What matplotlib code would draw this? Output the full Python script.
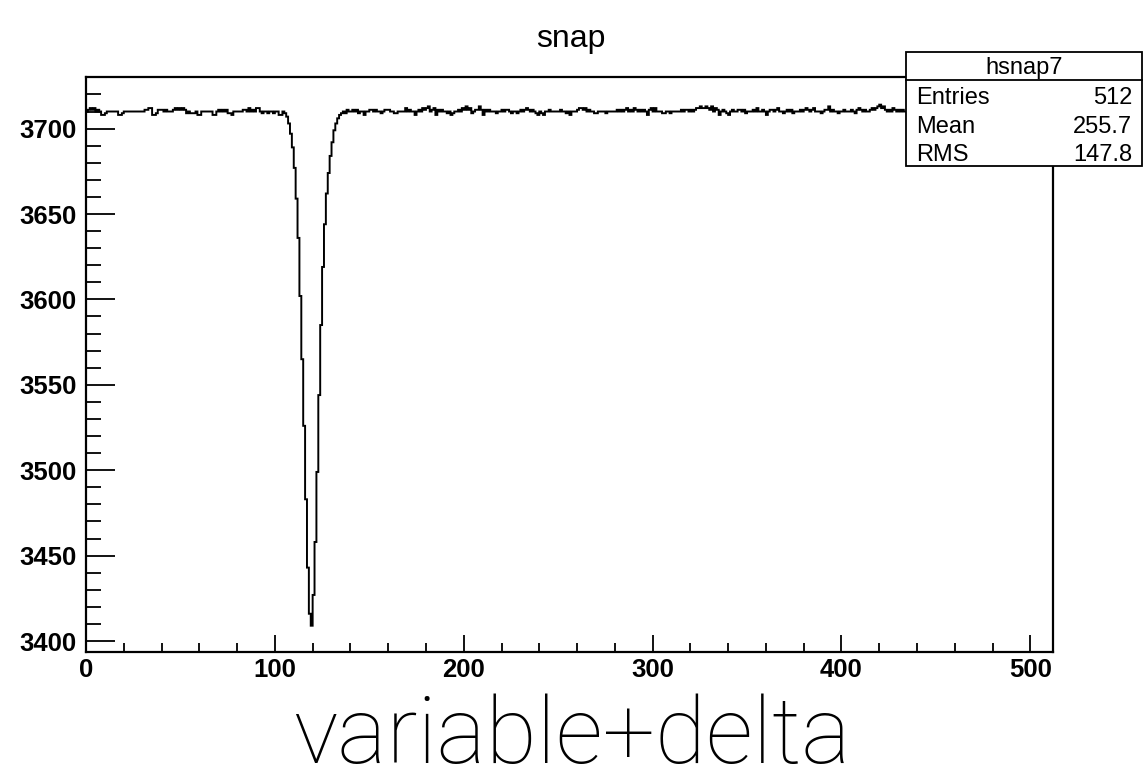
import numpy as np
import matplotlib
matplotlib.use('Agg')
import matplotlib.pyplot as plt
from matplotlib.patches import Rectangle
from matplotlib.lines import Line2D
from matplotlib.ticker import MultipleLocator

# Histogram "hsnap7": 512 bins over [0, 512), contents.
counts = [
    3710, 3711, 3712, 3711, 3712, 3710, 3711, 3710, 3708, 3708, 3709, 3710, 3710, 3710, 3710, 3710,
    3710, 3708, 3708, 3709, 3710, 3710, 3710, 3710, 3710, 3710, 3710, 3710, 3710, 3710, 3710, 3711,
    3711, 3712, 3712, 3708, 3708, 3709, 3711, 3711, 3711, 3710, 3711, 3710, 3710, 3710, 3711, 3712,
    3711, 3712, 3711, 3712, 3711, 3709, 3710, 3709, 3709, 3709, 3710, 3708, 3708, 3710, 3710, 3710,
    3710, 3710, 3710, 3708, 3708, 3710, 3711, 3710, 3711, 3710, 3711, 3709, 3709, 3708, 3710, 3710,
    3710, 3710, 3710, 3711, 3711, 3710, 3712, 3710, 3711, 3710, 3712, 3712, 3710, 3709, 3710, 3710,
    3709, 3710, 3710, 3709, 3710, 3710, 3708, 3708, 3710, 3709, 3707, 3703, 3697, 3689, 3677, 3659,
    3636, 3602, 3565, 3526, 3483, 3443, 3416, 3409, 3427, 3458, 3499, 3544, 3585, 3619, 3644, 3662,
    3674, 3684, 3692, 3699, 3703, 3706, 3708, 3709, 3710, 3709, 3711, 3710, 3710, 3711, 3710, 3711,
    3709, 3710, 3710, 3708, 3710, 3710, 3711, 3711, 3710, 3711, 3710, 3710, 3709, 3710, 3711, 3711,
    3711, 3710, 3710, 3709, 3709, 3710, 3710, 3710, 3710, 3712, 3710, 3711, 3710, 3710, 3708, 3710,
    3711, 3710, 3712, 3711, 3712, 3713, 3710, 3711, 3712, 3708, 3711, 3710, 3711, 3710, 3710, 3709,
    3710, 3708, 3709, 3710, 3710, 3711, 3710, 3712, 3711, 3713, 3711, 3712, 3709, 3710, 3711, 3711,
    3713, 3711, 3708, 3711, 3710, 3711, 3710, 3710, 3710, 3709, 3710, 3710, 3711, 3710, 3711, 3711,
    3710, 3709, 3710, 3710, 3709, 3710, 3711, 3710, 3711, 3712, 3711, 3710, 3711, 3710, 3709, 3708,
    3710, 3709, 3708, 3710, 3710, 3711, 3710, 3710, 3710, 3710, 3710, 3711, 3710, 3710, 3709, 3710,
    3708, 3710, 3710, 3710, 3711, 3712, 3712, 3711, 3712, 3710, 3711, 3710, 3710, 3709, 3709, 3710,
    3710, 3710, 3710, 3709, 3710, 3710, 3710, 3710, 3710, 3711, 3710, 3711, 3710, 3711, 3712, 3710,
    3711, 3710, 3712, 3711, 3710, 3711, 3710, 3711, 3710, 3708, 3711, 3712, 3710, 3712, 3710, 3710,
    3710, 3709, 3709, 3710, 3710, 3709, 3710, 3710, 3710, 3710, 3710, 3711, 3710, 3711, 3711, 3710,
    3711, 3710, 3711, 3712, 3712, 3713, 3712, 3712, 3713, 3712, 3711, 3713, 3710, 3712, 3711, 3708,
    3710, 3711, 3710, 3709, 3708, 3710, 3711, 3710, 3710, 3711, 3711, 3710, 3711, 3709, 3710, 3710,
    3710, 3711, 3710, 3712, 3710, 3710, 3711, 3710, 3708, 3710, 3711, 3711, 3710, 3711, 3712, 3710,
    3710, 3709, 3710, 3711, 3710, 3711, 3709, 3710, 3710, 3710, 3711, 3710, 3711, 3712, 3711, 3710,
    3711, 3712, 3710, 3710, 3710, 3709, 3710, 3711, 3711, 3713, 3710, 3711, 3710, 3710, 3709, 3710,
    3710, 3711, 3710, 3710, 3710, 3711, 3710, 3709, 3711, 3712, 3711, 3710, 3711, 3710, 3710, 3711,
    3712, 3711, 3712, 3713, 3714, 3712, 3713, 3711, 3710, 3711, 3710, 3712, 3711, 3710, 3711, 3710,
    3711, 3710, 3710, 3711, 3710, 3711, 3710, 3710, 3710, 3711, 3710, 3710, 3711, 3710, 3710, 3710,
    3710, 3711, 3709, 3710, 3711, 3710, 3712, 3710, 3711, 3710, 3710, 3709, 3710, 3711, 3710, 3711,
    3710, 3710, 3711, 3712, 3710, 3711, 3710, 3709, 3710, 3710, 3711, 3710, 3712, 3711, 3710, 3710,
    3711, 3710, 3709, 3710, 3710, 3711, 3711, 3710, 3710, 3712, 3710, 3711, 3710, 3710, 3711, 3710,
    3710, 3711, 3710, 3710, 3709, 3710, 3711, 3710, 3711, 3710, 3710, 3711, 3710, 3710, 3711, 3710,
]
bin_edges = np.arange(len(counts) + 1)

hist_name = 'hsnap7'
stat_labels = ['Entries', 'Mean', 'RMS']
stat_values = ['512', '255.7', '147.8']
title = 'snap'
caption = 'variable+delta'

W, H = 1143, 782
fig = plt.figure(figsize=(W / 100, H / 100), dpi=100)
fig.patch.set_facecolor('white')

# frame in pixels: left 86, right 1053, top 77, bottom 652
ax = fig.add_axes([86 / W, 1 - 652 / H, (1053 - 86) / W, (652 - 77) / H])
ax.stairs(counts, bin_edges, color='black', linewidth=1.4)
ax.set_xlim(0, 512)
ax.set_ylim(3393.6, 3730.2)

for s in ['top', 'right', 'left', 'bottom']:
    ax.spines[s].set_linewidth(1.6)

ax.xaxis.set_major_locator(MultipleLocator(100))
ax.xaxis.set_minor_locator(MultipleLocator(20))
ax.yaxis.set_major_locator(MultipleLocator(50))
ax.yaxis.set_minor_locator(MultipleLocator(10))
ax.tick_params(axis='x', which='major', direction='in', length=12.5, width=1.3, pad=4)
ax.tick_params(axis='x', which='minor', direction='in', length=6.3, width=1.3)
ax.tick_params(axis='y', which='major', direction='in', length=21, width=1.3, pad=7)
ax.tick_params(axis='y', which='minor', direction='in', length=10.5, width=1.3)
for lab in ax.get_xticklabels() + ax.get_yticklabels():
    lab.set_family('Liberation Sans')
    lab.set_fontweight('bold')
    lab.set_fontsize(18.5)

fig.text(571 / W, 1 - 47 / H, title, ha='center', va='baseline',
         family='Liberation Sans', fontsize=23)

# stats box
bx0, by0, bx1, by1 = 906, 52, 1142, 166
fig.add_artist(Rectangle((bx0 / W, 1 - by1 / H), (bx1 - bx0) / W, (by1 - by0) / H,
                         transform=fig.transFigure, facecolor='white',
                         edgecolor='black', linewidth=1.3, zorder=5))
fig.add_artist(Line2D([bx0 / W, bx1 / W], [1 - 80 / H, 1 - 80 / H],
                      transform=fig.transFigure, color='black', linewidth=1.3, zorder=6))
fig.text((bx0 + bx1) / 2 / W, 1 - 74 / H, hist_name, ha='center', va='baseline',
         family='Liberation Sans', fontsize=17, zorder=7)
rows_y = [104, 133, 161]
for lab, val, yy in zip(stat_labels, stat_values, rows_y):
    fig.text(916 / W, 1 - yy / H, lab, ha='left', va='baseline',
             family='Liberation Sans', fontsize=17, zorder=7)
    fig.text(1132 / W, 1 - yy / H, val, ha='right', va='baseline',
             family='Liberation Sans', fontsize=17, zorder=7)

fig.text(572 / W, 0.0, caption, ha='center', va='bottom',
         family='Roboto', fontweight='light', fontsize=67)

fig.savefig('out.png', dpi=100)
